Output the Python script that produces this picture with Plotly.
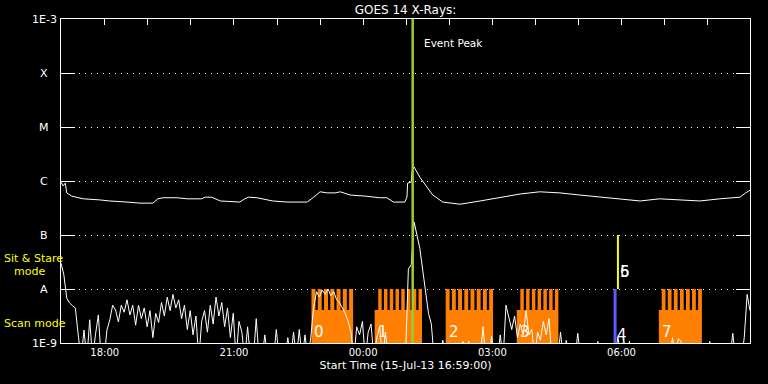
import plotly.graph_objects as go
import pandas as pd

# ---------------- data ----------------
t_start = "2013-07-15 16:59"
t_stop = "2013-07-16 08:59"

# GOES long channel (1-8 A), log10 flux
long_time = ["2013-07-15 16:59","2013-07-15 17:02","2013-07-15 17:05","2013-07-15 17:06","2013-07-15 17:07",
             "2013-07-15 17:14","2013-07-15 17:21","2013-07-15 17:30","2013-07-15 17:53","2013-07-15 18:07",
             "2013-07-15 18:31","2013-07-15 18:49","2013-07-15 19:07","2013-07-15 19:14","2013-07-15 19:21",
             "2013-07-15 19:41","2013-07-15 19:55","2013-07-15 20:15","2013-07-15 20:20","2013-07-15 20:29",
             "2013-07-15 20:41","2013-07-15 21:08","2013-07-15 21:15","2013-07-15 21:20","2013-07-15 21:32",
             "2013-07-15 21:54","2013-07-15 22:14","2013-07-15 22:42","2013-07-15 22:50","2013-07-15 23:00",
             "2013-07-15 23:10","2013-07-15 23:21","2013-07-15 23:28","2013-07-15 23:42","2013-07-16 00:03",
             "2013-07-16 00:23","2013-07-16 00:33","2013-07-16 00:42","2013-07-16 00:58","2013-07-16 01:01",
             "2013-07-16 01:02","2013-07-16 01:07","2013-07-16 01:08","2013-07-16 01:11","2013-07-16 01:19",
             "2013-07-16 01:29","2013-07-16 01:37","2013-07-16 01:51","2013-07-16 02:15","2013-07-16 02:43",
             "2013-07-16 03:11","2013-07-16 03:39","2013-07-16 04:06","2013-07-16 04:34","2013-07-16 05:02",
             "2013-07-16 05:30","2013-07-16 05:58","2013-07-16 06:26","2013-07-16 06:53","2013-07-16 07:21",
             "2013-07-16 07:49","2013-07-16 08:17","2013-07-16 08:45","2013-07-16 08:53","2013-07-16 08:59"]
long_log = [-6.02,-6.09,-6.04,-6.17,-6.22,-6.28,-6.30,-6.33,-6.35,-6.37,
            -6.39,-6.41,-6.41,-6.33,-6.31,-6.31,-6.33,-6.33,-6.30,-6.30,
            -6.37,-6.39,-6.33,-6.30,-6.31,-6.37,-6.39,-6.39,-6.31,-6.20,
            -6.22,-6.22,-6.20,-6.26,-6.28,-6.31,-6.31,-6.39,-6.39,-6.30,
            -6.04,-6.02,-5.83,-5.74,-5.93,-6.11,-6.26,-6.39,-6.43,-6.37,
            -6.30,-6.24,-6.20,-6.22,-6.26,-6.30,-6.33,-6.37,-6.33,-6.35,
            -6.37,-6.33,-6.30,-6.22,-6.17]

# GOES short channel (0.5-4 A), log10 flux, 4-minute samples from t_start
short_log = [-7.52,-7.74,-8.17,-8.26,-8.31,-8.35,-8.85,-9.3,-8.76,-9.3,
             -8.57,-9.3,-8.85,-8.48,-9.3,-9.3,-8.76,-8.57,-8.30,-8.39,
             -8.61,-8.30,-8.43,-8.20,-8.48,-8.30,-8.67,-8.30,-8.55,-8.35,
             -8.70,-8.40,-8.90,-8.45,-8.62,-8.25,-8.50,-8.15,-8.40,-8.10,
             -8.35,-8.20,-8.55,-8.30,-8.75,-8.40,-8.85,-8.50,-9.3,-8.60,
             -8.40,-8.80,-8.30,-8.65,-8.15,-8.50,-8.25,-8.70,-8.35,-8.90,
             -8.45,-9.3,-8.60,-8.80,-9.3,-8.70,-9.3,-9.3,-8.55,-9.3,
             -9.3,-8.85,-9.3,-9.3,-9.3,-8.75,-9.3,-9.3,-9.3,-8.90,
             -9.3,-8.80,-9.3,-8.75,-9.3,-8.85,-9.3,-8.90,-8.35,-8.05,
             -8.15,-8.02,-8.10,-8.00,-8.12,-8.05,-8.20,-8.25,-8.35,-8.45,
             -8.60,-8.80,-9.3,-8.70,-8.85,-8.60,-9.3,-8.80,-8.65,-9.3,
             -8.90,-8.70,-9.3,-8.80,-9.3,-9.3,-9.3,-9.3,-9.3,-9.3,
             -9.3,-7.63,-7.55,-6.76,-6.98,-7.25,-7.65,-8.05,-8.45,-8.65,
             -9.3,-9.3,-9.3,-8.95,-9.3,-9.3,-9.3,-9.3,-9.3,-9.3,
             -8.97,-9.3,-8.97,-9.3,-9.3,-9.3,-9.3,-8.70,-9.3,-9.3,
             -8.88,-9.3,-9.3,-8.85,-9.3,-8.30,-8.55,-8.75,-8.50,-8.90,
             -8.65,-8.85,-8.40,-8.85,-8.75,-9.3,-8.80,-8.95,-8.60,-8.85,
             -8.55,-9.3,-9.3,-9.3,-8.80,-9.3,-8.95,-9.3,-9.3,-9.3,
             -8.82,-9.3,-9.3,-9.3,-9.3,-9.3,-9.3,-8.97,-9.3,-9.3,
             -9.3,-9.3,-9.3,-9.3,-8.88,-9.3,-8.92,-9.3,-8.97,-9.3,
             -9.3,-9.3,-9.3,-9.3,-9.3,-9.3,-9.3,-9.3,-9.3,-9.3,
             -9.3,-9.3,-9.3,-8.90,-9.3,-8.92,-8.97,-9.3,-9.3,-9.3,
             -9.3,-9.3,-9.3,-9.3,-9.3,-9.3,-8.97,-9.3,-9.3,-9.3,
             -9.3,-9.3,-9.3,-9.3,-8.82,-9.3,-9.3,-9.3,-8.90,-8.10,-8.40]

# scan-mode observation blocks
block_labels = ["0", "1", "2", "3", "7"]
block_start = ["2013-07-15 22:48", "2013-07-16 00:16", "2013-07-16 01:55", "2013-07-16 03:34", "2013-07-16 06:52"]
raster_start = ["2013-07-15 22:48", "2013-07-16 00:21", "2013-07-16 01:55", "2013-07-16 03:39", "2013-07-16 06:56"]
block_end = ["2013-07-15 23:46", "2013-07-16 01:22", "2013-07-16 03:01", "2013-07-16 04:32", "2013-07-16 07:52"]
n_rasters = [7, 8, 8, 7, 7]
raster_gap_min = 3.2
scan_level = 4.1e-9
raster_level = 1e-8

# single-time observations
scan_point_label = "4"
scan_point_time = "2013-07-16 05:51"
stare_labels = ["5", "6"]
stare_time = "2013-07-16 05:55"
event_peak_time = "2013-07-16 01:09"

# axis labels
y_levels = [-9, -8, -7, -6, -5, -4, -3]
y_names = ["1E-9", "A", "B", "C", "M", "X", "1E-3"]

# ---------------- figure ----------------
FONT = "DejaVu Sans"
ORANGE = "#ff8000"
WHITE = "#ffffff"

def ts(s):
    return s.strftime("%Y-%m-%d %H:%M:%S")

fig = go.Figure()

# orange scan blocks (base + raster comb)
px, py = [], []
gap = pd.Timedelta(minutes=raster_gap_min)
for bs, rs, be, n in zip(block_start, raster_start, block_end, n_rasters):
    bs, rs, be = pd.Timestamp(bs), pd.Timestamp(rs), pd.Timestamp(be)
    px += [ts(bs), ts(bs), ts(be), ts(be), ts(bs), None]
    py += [1e-9, scan_level, scan_level, 1e-9, 1e-9, None]
    period = (be - rs + gap) / n
    for k in range(n):
        a = rs + k * period
        b = a + period - gap
        px += [ts(a), ts(a), ts(b), ts(b), ts(a), None]
        py += [1e-9, raster_level, raster_level, 1e-9, 1e-9, None]
fig.add_trace(go.Scatter(x=px, y=py, mode="lines", fill="toself", fillcolor=ORANGE,
                         line=dict(width=0, color=ORANGE), hoverinfo="skip", showlegend=False))

# GOES curves
short_time = pd.date_range(t_start, periods=len(short_log), freq="4min")
fig.add_trace(go.Scatter(x=[ts(t) for t in short_time], y=[10 ** v for v in short_log], mode="lines",
                         line=dict(color=WHITE, width=1), hoverinfo="skip", showlegend=False))
fig.add_trace(go.Scatter(x=long_time, y=[10 ** v for v in long_log], mode="lines",
                         line=dict(color=WHITE, width=1), hoverinfo="skip", showlegend=False))

# single observations
fig.add_trace(go.Scatter(x=[scan_point_time, scan_point_time], y=[1e-9, 1e-8], mode="lines",
                         line=dict(color="#5a5aff", width=3), hoverinfo="skip", showlegend=False))
fig.add_trace(go.Scatter(x=[stare_time, stare_time], y=[1e-8, 1e-7], mode="lines",
                         line=dict(color="#ffff00", width=2), hoverinfo="skip", showlegend=False))

# event peak
fig.add_trace(go.Scatter(x=[event_peak_time, event_peak_time], y=[1e-9, 1e-3], mode="lines",
                         line=dict(color="#9acd32", width=2.5), hoverinfo="skip", showlegend=False))

# invisible trace for the top tick axis
fig.add_trace(go.Scatter(x=[t_start, t_stop], y=[1e-9, 1e-9], xaxis="x2", mode="markers",
                         marker=dict(opacity=0), hoverinfo="skip", showlegend=False))

ann = []
for lv, nm in zip(y_levels, y_names):
    ann.append(dict(x=-0.024, xref="paper", y=lv, yref="y", text=nm, showarrow=False,
                    xanchor="center", yanchor="middle", font=dict(family=FONT, size=11, color=WHITE)))
YEL = dict(family=FONT, size=11, color="#ffff00")
ann.append(dict(x=(2 - 61) / 689, xref="paper", y=-7.444, yref="y", text="Sit & Stare", showarrow=False,
                xanchor="left", yanchor="middle", font=YEL))
ann.append(dict(x=(12 - 61) / 689, xref="paper", y=-7.667, yref="y", text="mode", showarrow=False,
                xanchor="left", yanchor="middle", font=YEL))
ann.append(dict(x=(2 - 61) / 689, xref="paper", y=-8.648, yref="y", text="Scan mode", showarrow=False,
                xanchor="left", yanchor="middle", font=YEL))
ann.append(dict(x=event_peak_time, xref="x", xshift=9, y=-3.44, yref="y", text="Event Peak", showarrow=False,
                xanchor="left", yanchor="middle", font=dict(family=FONT, size=10.5, color=WHITE)))
LBL = dict(family=FONT, size=15, color=WHITE)
for lab, bs in zip(block_labels, block_start):
    ann.append(dict(x=bs, xref="x", xshift=1, y=-8.80, yref="y", text=lab, showarrow=False,
                    xanchor="left", yanchor="middle", font=LBL))
ann.append(dict(x=scan_point_time, xref="x", y=-8.85, yref="y", text=scan_point_label, showarrow=False,
                xanchor="left", yanchor="middle", font=LBL))
for lab in stare_labels:
    ann.append(dict(x=stare_time, xref="x", y=-7.69, yref="y", text=lab, showarrow=False,
                    xanchor="left", yanchor="middle", font=LBL))

fig.update_layout(
    width=768, height=384,
    paper_bgcolor="black", plot_bgcolor="black",
    margin=dict(l=61, r=18, t=19, b=41),
    title=dict(text="GOES 14 X-Rays:", x=0.5, xref="paper", xanchor="center",
               y=1 - 10 / 384, yref="container", yanchor="middle",
               font=dict(family=FONT, size=12, color=WHITE)),
    xaxis=dict(type="date", range=[t_start, t_stop], showgrid=False, zeroline=False,
               ticks="", tick0="2013-07-15 18:00", dtick=3 * 3600000, tickformat="%H:%M",
               tickfont=dict(family=FONT, size=10, color=WHITE),
               showline=True, linecolor=WHITE, linewidth=1, mirror=True,
               title=dict(text="Start Time (15-Jul-13 16:59:00)", standoff=4,
                          font=dict(family=FONT, size=11, color=WHITE))),
    xaxis2=dict(type="date", overlaying="x", matches="x", side="top", showgrid=False, zeroline=False,
                ticks="inside", ticklen=6, tickcolor=WHITE, tickwidth=1,
                tick0="2013-07-15 17:00", dtick=3600000, showticklabels=False, showline=False),
    yaxis=dict(type="log", range=[-9, -3], tickvals=[10.0 ** v for v in y_levels],
               showticklabels=False, ticks="inside", ticklen=14, tickcolor=WHITE, tickwidth=1,
               showline=True, linecolor=WHITE, linewidth=1, mirror="ticks",
               showgrid=True, gridcolor=WHITE, gridwidth=1, griddash="1px,5px", zeroline=False),
    annotations=ann,
    showlegend=False,
)

fig.write_html("out.html")
